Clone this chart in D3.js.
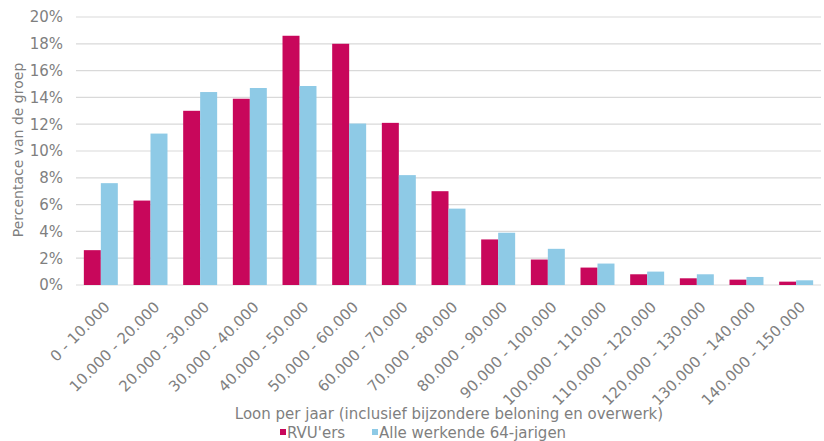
<!DOCTYPE html>
<html>
<head>
<meta charset="utf-8">
<script src="https://cdn.jsdelivr.net/npm/d3@7"></script>
<style>
  body { margin: 0; background: #fff; }
  text { font-family: "DejaVu Sans", Verdana, sans-serif; fill: #7f7f7f; }
</style>
</head>
<body>
<div id="chart"></div>
<script>
var categories = ["0 - 10.000", "10.000 - 20.000", "20.000 - 30.000", "30.000 - 40.000",
  "40.000 - 50.000", "50.000 - 60.000", "60.000 - 70.000", "70.000 - 80.000",
  "80.000 - 90.000", "90.000 - 100.000", "100.000 - 110.000", "110.000 - 120.000",
  "120.000 - 130.000", "130.000 - 140.000", "140.000 - 150.000"];
var rvuers = [2.6, 6.3, 13.0, 13.9, 18.6, 18.0, 12.1, 7.0, 3.4, 1.9, 1.3, 0.8, 0.5, 0.4, 0.25];
var alle64 = [7.6, 11.3, 14.4, 14.7, 14.85, 12.05, 8.2, 5.7, 3.9, 2.7, 1.6, 1.0, 0.8, 0.6, 0.35];
var seriesNames = ["RVU'ers", "Alle werkende 64-jarigen"];
var yTicks = [0, 2, 4, 6, 8, 10, 12, 14, 16, 18, 20];

var width = 824, height = 441,
    plotLeft = 76, plotRight = 821, plotTop = 17, plotBottom = 285,
    colors = ["#c8075b", "#8ecae6"];

var svg = d3.select("#chart").append("svg")
  .attr("width", width)
  .attr("height", height);

var x = d3.scaleBand()
  .domain(categories)
  .range([plotLeft, plotRight])
  .paddingInner(0.316)
  .paddingOuter(0.158);

var x1 = d3.scaleBand()
  .domain([0, 1])
  .range([0, x.bandwidth()]);

var y = d3.scaleLinear()
  .domain([0, 20])
  .range([plotBottom, plotTop]);

// gridlines
svg.selectAll("line.grid")
  .data(yTicks)
  .enter().append("line")
    .attr("class", "grid")
    .attr("x1", plotLeft)
    .attr("x2", plotRight)
    .attr("y1", function(d) { return y(d); })
    .attr("y2", function(d) { return y(d); })
    .style("stroke", "#d9d9d9")
    .style("stroke-width", 1.2);

// y axis labels
var yAxis = svg.append("g")
  .attr("transform", "translate(" + plotLeft + ",0)")
  .call(d3.axisLeft(y).tickValues(yTicks).tickSize(0).tickPadding(13)
    .tickFormat(function(d) { return d + "%"; }));
yAxis.select(".domain").remove();
yAxis.selectAll("text")
  .style("font-size", "15px")
  .attr("fill", "#7f7f7f");

// bars
var rows = categories.map(function(c, i) { return {cat: c, vals: [rvuers[i], alle64[i]]}; });

var groups = svg.selectAll("g.cat")
  .data(rows)
  .enter().append("g")
    .attr("class", "cat")
    .attr("transform", function(d) { return "translate(" + x(d.cat) + ",0)"; });

groups.selectAll("rect")
  .data(function(d) { return d.vals; })
  .enter().append("rect")
    .attr("x", function(d, i) { return x1(i); })
    .attr("width", x1.bandwidth())
    .attr("y", function(d) { return y(d); })
    .attr("height", function(d) { return y(0) - y(d); })
    .attr("fill", function(d, i) { return colors[i]; });

// x axis labels
var xAxis = svg.append("g")
  .attr("transform", "translate(0," + plotBottom + ")")
  .call(d3.axisBottom(x).tickSize(0).tickPadding(0));
xAxis.select(".domain").remove();
xAxis.selectAll("text")
  .style("font-size", "15px")
  .attr("fill", "#7f7f7f")
  .attr("text-anchor", "end")
  .attr("dy", 0)
  .attr("transform", "translate(10,23) rotate(-45)");

// axis titles
svg.append("text")
  .attr("transform", "translate(23,150) rotate(-90)")
  .attr("text-anchor", "middle")
  .style("font-size", "14px")
  .text("Percentace van de groep");

svg.append("text")
  .attr("x", 449)
  .attr("y", 419)
  .attr("text-anchor", "middle")
  .style("font-size", "15px")
  .text("Loon per jaar (inclusief bijzondere beloning en overwerk)");

// legend
var legendX = [280, 372];
var legend = svg.selectAll("g.legend")
  .data(seriesNames)
  .enter().append("g")
    .attr("class", "legend")
    .attr("transform", function(d, i) { return "translate(" + legendX[i] + ",438)"; });

legend.append("rect")
  .attr("x", 0)
  .attr("y", -9)
  .attr("width", 6)
  .attr("height", 6)
  .attr("fill", function(d, i) { return colors[i]; });

legend.append("text")
  .attr("x", 7)
  .attr("y", 0)
  .style("font-size", "15px")
  .text(function(d) { return d; });
</script>
</body>
</html>
